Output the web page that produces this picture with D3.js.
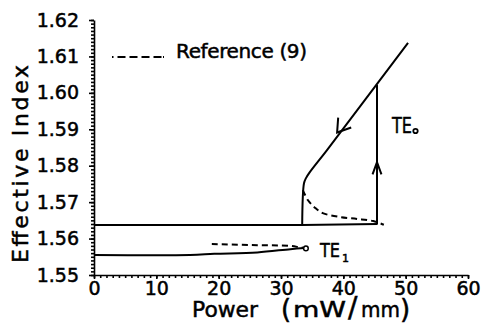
<!DOCTYPE html>
<html><head><meta charset="utf-8">
<script src="https://cdn.jsdelivr.net/npm/d3@7"></script>
<style>
html,body{margin:0;padding:0;background:#fff;}
svg{display:block;}
text{font-family:"DejaVu Sans",sans-serif;fill:#000;stroke:#000;stroke-width:0.5px;}
</style></head>
<body>
<script>
// ---- data ----
const xTicks = [0,10,20,30,40,50,60];
const yTicks = [1.55,1.56,1.57,1.58,1.59,1.60,1.61,1.62];
// TE0 lower (stable) branch
const te0LowP = [0, 33.4, 45.5];
const te0LowN = [1.5637, 1.5637, 1.5640];
// TE0 upper (stable) branch
const te0HighP = [33.4, 33.69, 34.01, 34.65, 37.38, 50.38];
const te0HighN = [1.5637, 1.5752, 1.5766, 1.5783, 1.5843, 1.6137];
// TE0 jump
const jumpP = [45.4, 45.4];
const jumpN = [1.5640, 1.6022];
// reference (9) TE0 dashed
const refTe0P = [33.5, 34.3, 35.5, 36.7, 39.5, 42.2, 44.8, 46.5];
const refTe0N = [1.5733, 1.5706, 1.5684, 1.5670, 1.5659, 1.5654, 1.5648, 1.5638];
// TE1 solid
const te1P = [0, 15.4, 19.3, 26.2, 31.5, 33.8];
const te1N = [1.5555, 1.5555, 1.5558, 1.5562, 1.5571, 1.5574];
// reference (9) TE1 dashed
const refTe1P = [18.9, 26.2, 31.4, 33.0, 33.8];
const refTe1N = [1.5585, 1.5582, 1.5580, 1.5576, 1.5574];
const te1End = [34.0, 1.5573];
const arrowDown = [39.0, 1.5891];
const arrowUp = [45.4, 1.5810];

const W = 482, H = 323;
const svg = d3.select("body").append("svg").attr("width", W).attr("height", H);
const x = d3.scaleLinear().domain([0,60]).range([94,468]);
const y = d3.scaleLinear().domain([1.55,1.62]).range([275,20]);

// axes
const minorX = d3.range(0,61,1);
const minorY = d3.range(0,71,1).map(i => 1.55 + i*0.001);
const gx = svg.append("g").attr("transform", `translate(0,${y(1.55)})`);
gx.call(d3.axisBottom(x).tickValues(minorX).tickSize(3).tickFormat("").tickSizeOuter(0));
gx.call(g => g.selectAll("path,line").attr("stroke","#000").attr("stroke-width",1.6));
const gx2 = svg.append("g").attr("transform", `translate(0,${y(1.55)})`);
gx2.call(d3.axisBottom(x).tickValues(xTicks).tickSize(4).tickPadding(3).tickFormat(d3.format("d")).tickSizeOuter(0));
gx2.select(".domain").remove();
gx2.selectAll("line").attr("stroke","#000").attr("stroke-width",1.6);
gx2.selectAll("text").attr("font-size",19).attr("font-family","DejaVu Sans");

const gy = svg.append("g").attr("transform", `translate(${x(0)},0)`);
gy.call(d3.axisLeft(y).tickValues(minorY).tickSize(3).tickFormat("").tickSizeOuter(0));
gy.call(g => g.selectAll("path,line").attr("stroke","#000").attr("stroke-width",1.6));
const gy2 = svg.append("g").attr("transform", `translate(${x(0)},0)`);
gy2.call(d3.axisLeft(y).tickValues(yTicks).tickSize(5).tickPadding(10).tickFormat(d3.format(".2f")).tickSizeOuter(0));
gy2.select(".domain").remove();
gy2.selectAll("line").attr("stroke","#000").attr("stroke-width",1.6);
gy2.selectAll("text").attr("font-size",19).attr("font-family","DejaVu Sans");

// axis titles
svg.append("text")
  .attr("transform", "translate(28,164) rotate(-90)")
  .attr("text-anchor","middle")
  .attr("font-size",22)
  .attr("textLength",198).attr("lengthAdjust","spacing")
  .text("Effective  Index");

const titleParts = [
  {t:"Power", x:192, w:66, fs:22, yy:317},
  {t:"(", x:281, w:null, fs:26, yy:318},
  {t:"mW", x:293, w:53, fs:22, yy:317},
  {t:"/", x:348, w:null, fs:28, yy:317},
  {t:"mm", x:361, w:39, fs:22, yy:317},
  {t:")", x:400, w:null, fs:26, yy:318}
];
svg.selectAll("text.xt").data(titleParts).join("text").attr("class","xt")
  .attr("x", d=>d.x).attr("y", d=>d.yy).attr("font-size", d=>d.fs)
  .attr("textLength", d=>d.w).attr("lengthAdjust","spacingAndGlyphs")
  .text(d=>d.t);

// curves
const zip = (P,N) => P.map((p,i)=>[p,N[i]]);
const lin = d3.line().x(d=>x(d[0])).y(d=>y(d[1]));
const smooth = d3.line().x(d=>x(d[0])).y(d=>y(d[1])).curve(d3.curveCatmullRom.alpha(0.5));

function draw(pathGen, data, dashed){
  svg.append("path").attr("d", pathGen(data)).attr("fill","none")
    .attr("stroke","#000").attr("stroke-width",2)
    .attr("stroke-dasharray", dashed ? "6,4" : null);
}
draw(lin, zip(te0LowP, te0LowN), false);
draw(smooth, zip(te0HighP, te0HighN), false);
draw(lin, zip(jumpP, jumpN), false);
draw(smooth, zip(refTe0P, refTe0N), true);
draw(smooth, zip(te1P, te1N), false);
draw(smooth, zip(refTe1P, refTe1N), true);

svg.append("circle").attr("cx", x(te1End[0])).attr("cy", y(te1End[1])).attr("r",2.3)
  .attr("fill","#fff").attr("stroke","#000").attr("stroke-width",1.5);

// arrows
function chevron(pt, angleDeg, len, spread){
  const cx = x(pt[0]), cy = y(pt[1]);
  const a = angleDeg*Math.PI/180, s = spread*Math.PI/180;
  const p1 = [cx + len*Math.cos(a+s), cy + len*Math.sin(a+s)];
  const p2 = [cx + len*Math.cos(a-s), cy + len*Math.sin(a-s)];
  svg.append("path").attr("d", `M${p1[0]},${p1[1]}L${cx},${cy}L${p2[0]},${p2[1]}`)
    .attr("fill","none").attr("stroke","#000").attr("stroke-width",2);
}
const dx = x(te0HighP[5]) - x(te0HighP[4]), dy = y(te0HighN[5]) - y(te0HighN[4]);
chevron(arrowDown, Math.atan2(dy,dx)*180/Math.PI, 15, 33);
chevron(arrowUp, 90, 13, 20);

// labels
svg.append("text").attr("x",392).attr("y",133).attr("font-size",21)
  .attr("textLength",20).attr("lengthAdjust","spacingAndGlyphs").text("TE");
svg.append("circle").attr("cx",415.5).attr("cy",131).attr("r",2.2)
  .attr("fill","none").attr("stroke","#000").attr("stroke-width",1.8);
svg.append("text").attr("x",320).attr("y",257).attr("font-size",20)
  .attr("textLength",20).attr("lengthAdjust","spacingAndGlyphs").text("TE");
svg.append("text").attr("x",342).attr("y",262).attr("font-size",11).text("1");

// legend
svg.append("line").attr("x1",112).attr("x2",164).attr("y1",57).attr("y2",57)
  .attr("stroke","#000").attr("stroke-width",2).attr("stroke-dasharray","1.5,4,8,4,8,4,8,4,8");
svg.append("text").attr("x",176).attr("y",58).attr("font-size",20)
  .attr("textLength",131).attr("lengthAdjust","spacing").text("Reference  (9)");
</script>
</body></html>
